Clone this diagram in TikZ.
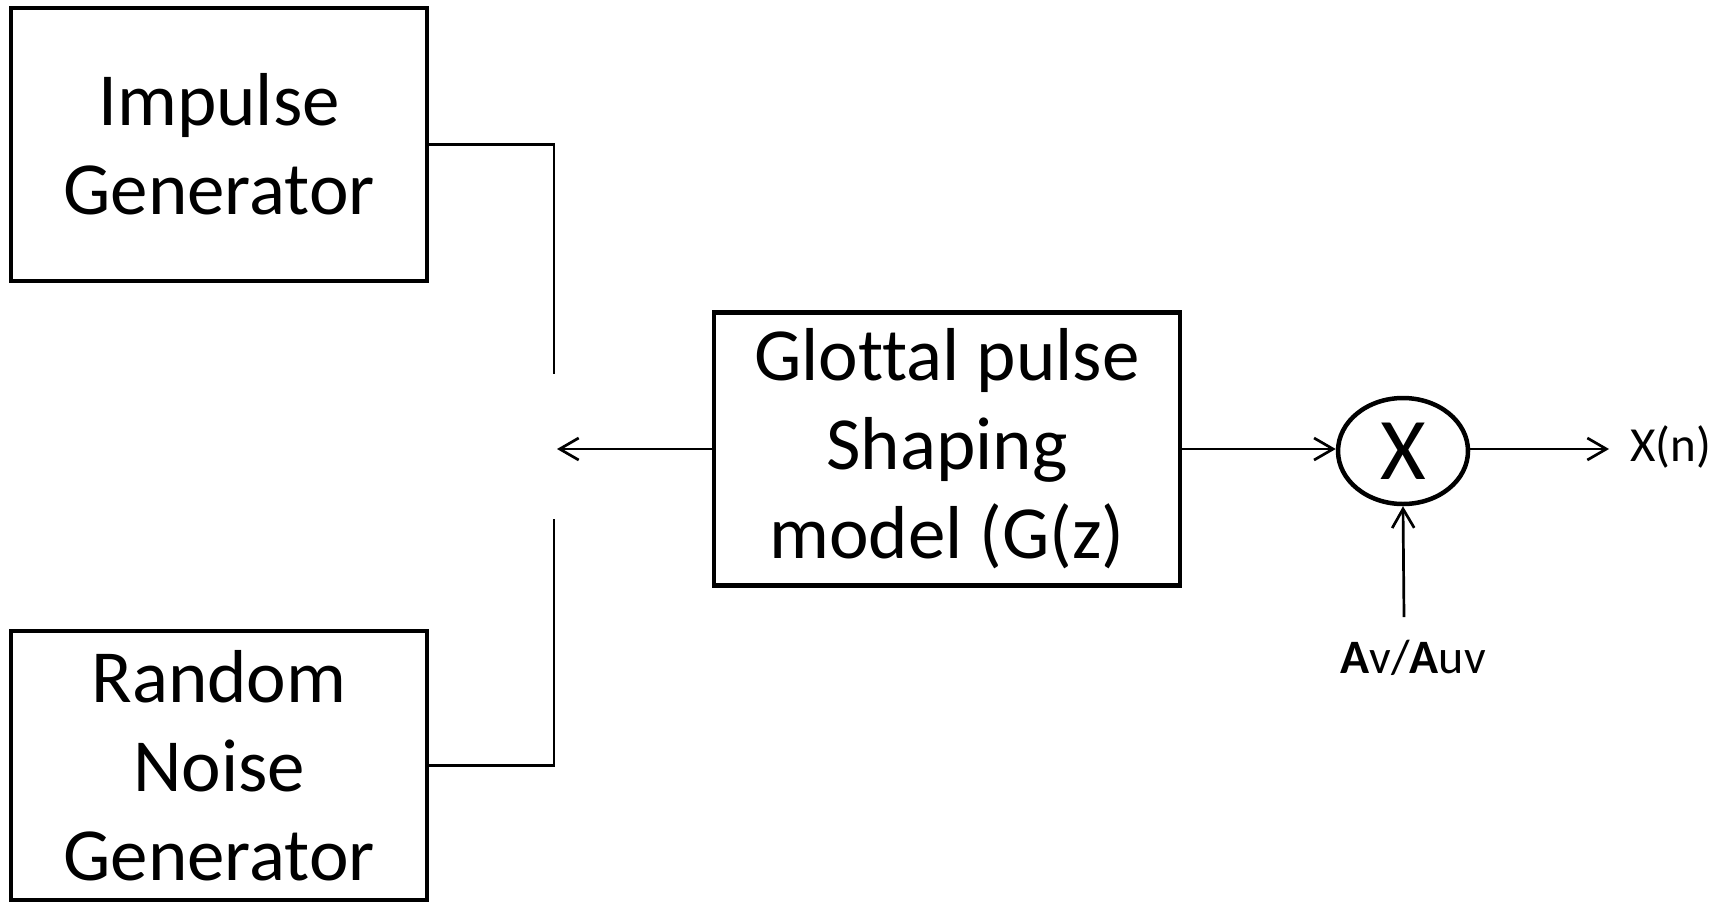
\documentclass[tikz,border=0pt]{standalone}
\usepackage{fontspec}
\setmainfont{Carlito}[Ligatures=NoCommon]
\usetikzlibrary{arrows.meta,shapes.geometric}
\begin{document}
\begin{tikzpicture}[x=1pt,y=-1pt,
  block/.style={draw, line width=4.5pt, rectangle, inner sep=0pt, align=center,
    font=\fontsize{75}{89}\selectfont},
  mixer/.style={draw, line width=4.5pt, ellipse, inner sep=0pt,
    minimum width=130pt, minimum height=106pt, font=\fontsize{88}{88}\selectfont},
  wire/.style={line width=2.7pt},
  arr/.style={wire, -{Straight Barb[length=19pt, width=22pt, line width=2.7pt]}},
  lbl/.style={inner sep=0pt}]
\useasboundingbox (0,0) rectangle (1727,903);

% source generators
\node[block, minimum width=416pt, minimum height=273pt] (imp) at (219,144.5)
  {Impulse\\Generator};
\node[block, minimum width=416pt, minimum height=269pt] (rnd) at (219,765.5)
  {Random\\Noise\\Generator};

% glottal shaping filter and gain multiplier
\node[block, minimum width=466pt, minimum height=273pt] (glot) at (947,449)
  {Glottal pulse\\Shaping\\model (G(z)};
\node[mixer] (mul) at (1403,451) {X};

% output and gain labels
\node[lbl, font=\fontsize{49}{49}\selectfont, anchor=west] (xn) at (1630,447) {X(n)};
\node[lbl, font=\fontsize{48}{48}\selectfont] (gain) at (1413,658)
  {\textbf{A}v/\textbf{A}uv};

% switch contacts
\coordinate (swA) at (554,374);
\coordinate (swB) at (554,519);
\coordinate (swC) at (557,449);
\coordinate (gtop) at (1404,617);

\draw[wire] (imp.east) -| (swA);
\draw[wire] (rnd.east) -| (swB);
\draw[arr] (glot.west) -- (swC);
\draw[arr] (glot.east) -- (mul.west |- glot.east);
\draw[arr] (mul.east |- glot.east) -- ([xshift=-21pt]xn.west |- glot.east);
\draw[arr] (gtop) -- (mul.south);
\end{tikzpicture}
\end{document}
